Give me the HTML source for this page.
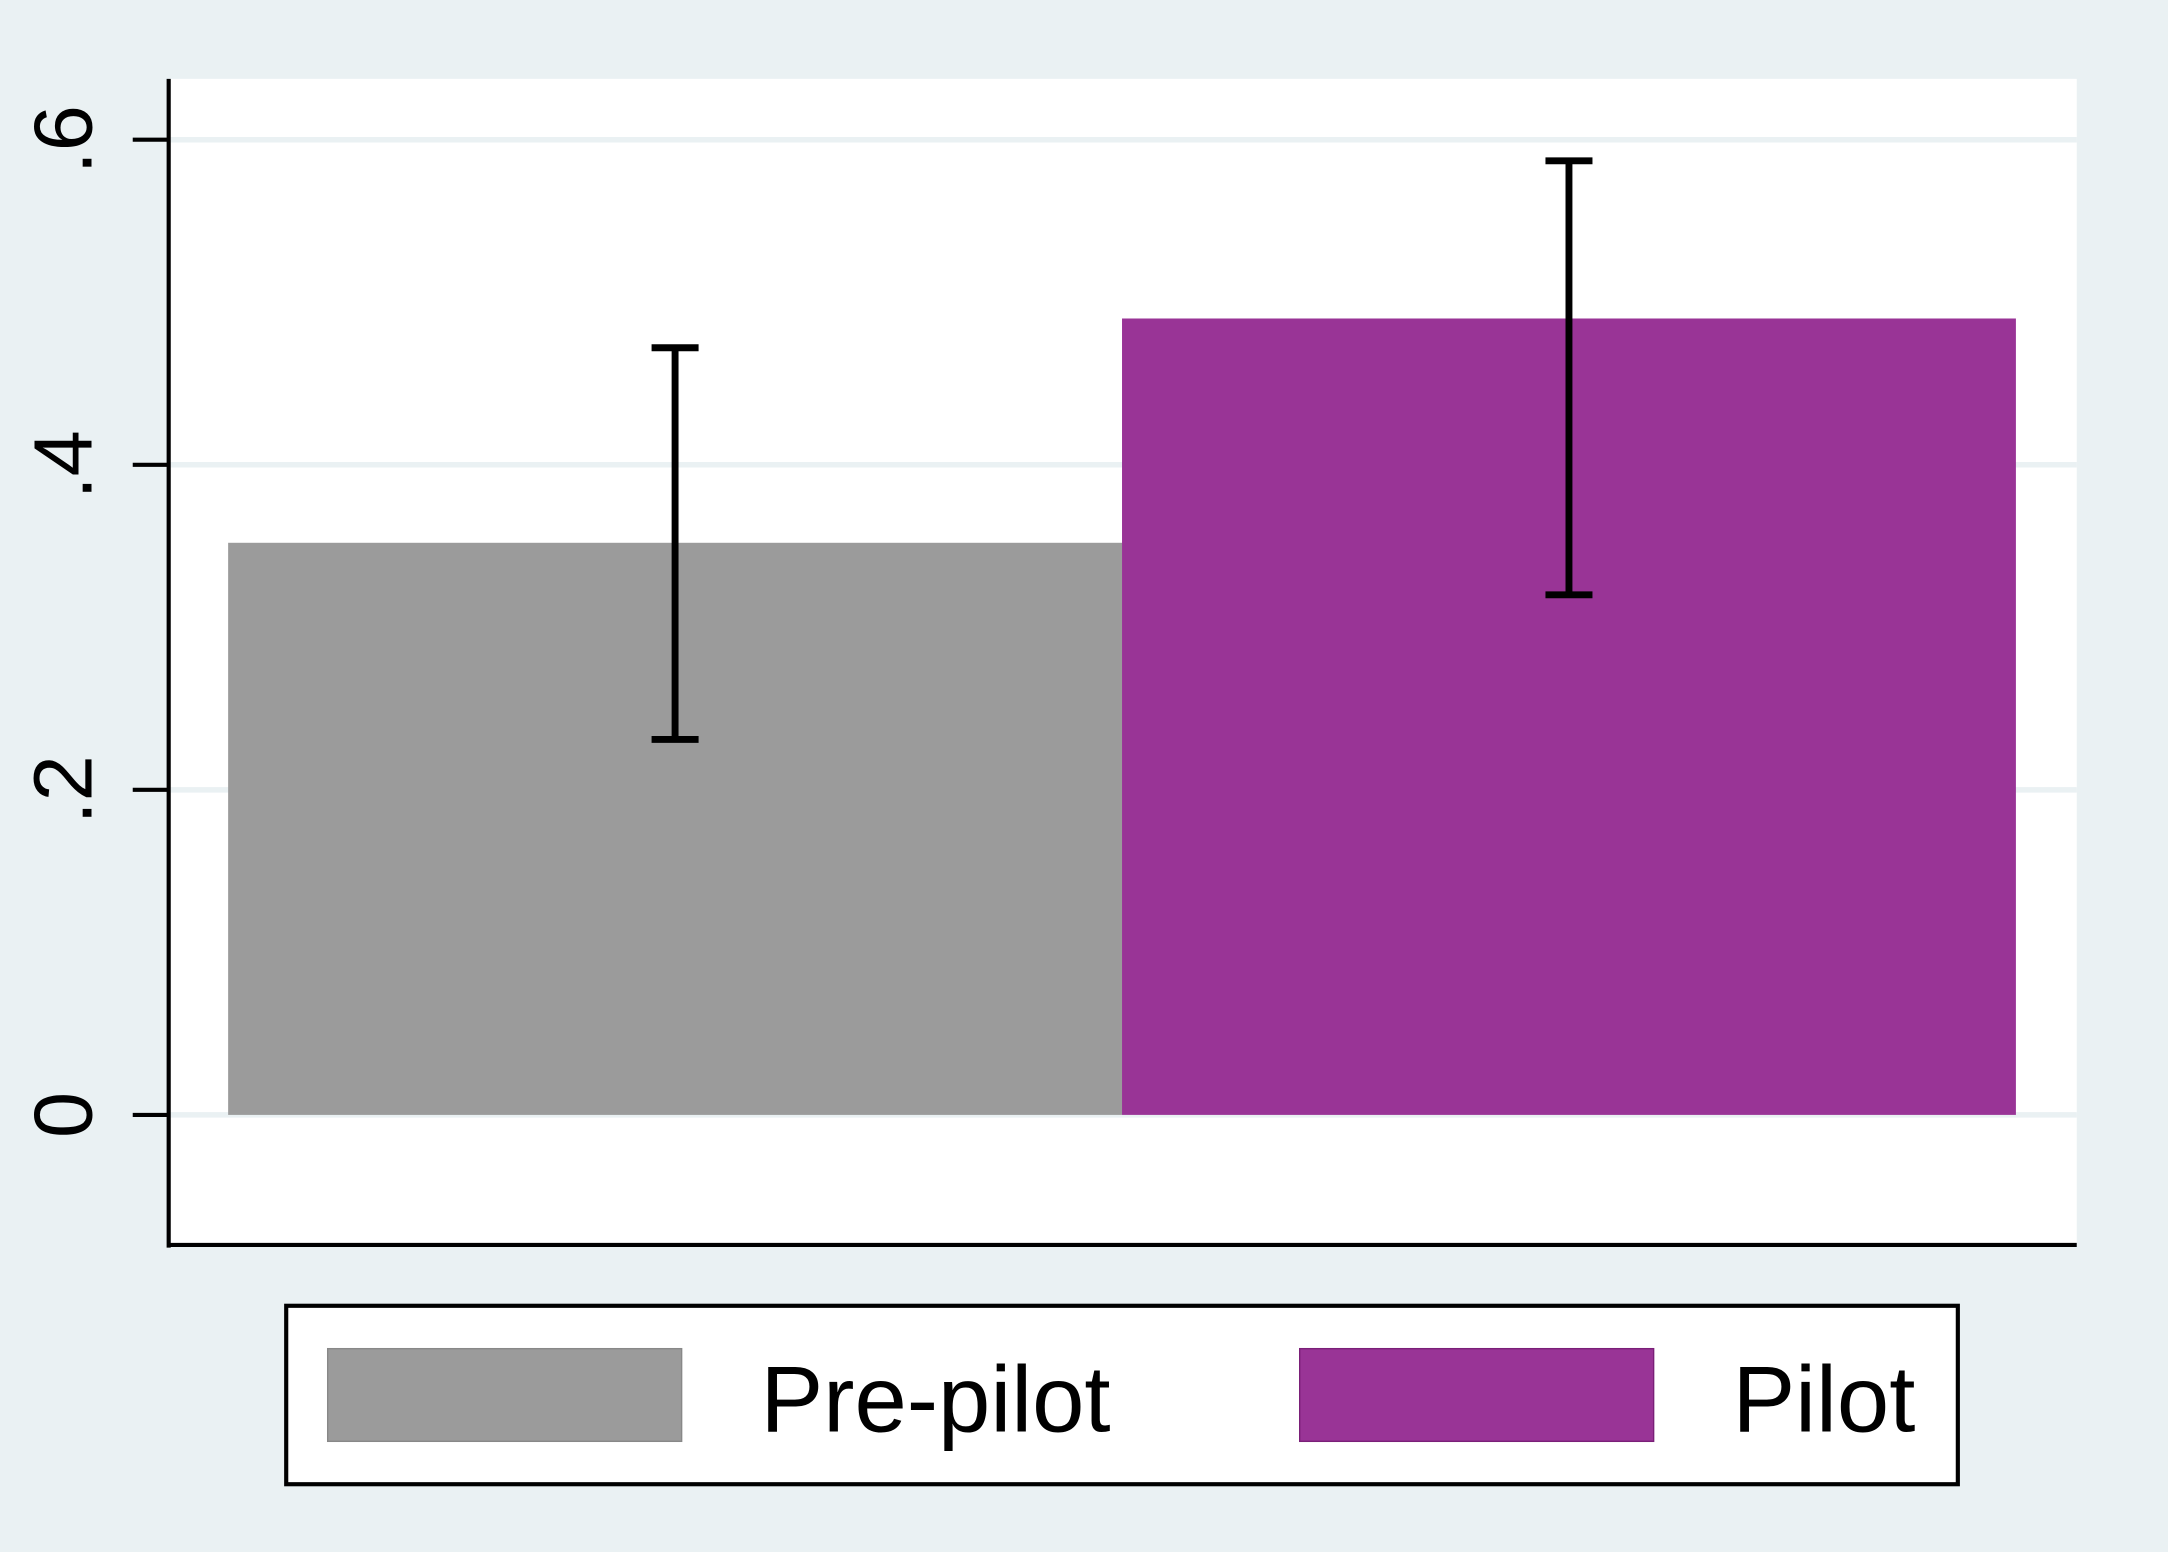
<!DOCTYPE html>
<html><head><meta charset="utf-8"><style>
html,body{margin:0;padding:0;background:#eaf1f3;}
svg{display:block;}
</style></head><body>
<svg id="chart" width="2168" height="1552" viewBox="0 0 1568 1122" preserveAspectRatio="none" xmlns="http://www.w3.org/2000/svg" font-family="Liberation Sans, Arial, sans-serif">
<rect x="0" y="0" width="1568" height="1122" fill="#eaf1f3"/>
<rect x="122" y="57" width="1380" height="843" fill="#ffffff"/>
<g id="grid"></g>
<g id="bars"></g>
<g id="errs"></g>
<line x1="122" y1="57" x2="122" y2="902" stroke="#000" stroke-width="3"/>
<line x1="121" y1="900" x2="1502" y2="900" stroke="#000" stroke-width="3"/>
<g id="ticks"></g>
<g>
<rect x="207" y="944" width="1209" height="129" fill="#fff" stroke="#000" stroke-width="3"/>
<rect x="237" y="975" width="256" height="67" fill="#9b9b9b" stroke="#888" stroke-width="1"/>
<text x="550" y="1035" font-size="68" fill="#000">Pre-pilot</text>
<rect x="940" y="975" width="256" height="67" fill="#993496" stroke="#7a1f78" stroke-width="1"/>
<text x="1253" y="1035" font-size="68" fill="#000">Pilot</text>
</g>
</svg>
<script>
const categories = ["Pre-pilot", "Pilot"];
const values = [0.352, 0.490];
const ciLow = [0.231, 0.320];
const ciHigh = [0.472, 0.587];
const tickValues = [0, 0.2, 0.4, 0.6];
const tickLabels = ["0", ".2", ".4", ".6"];
const colors = ["#9b9b9b", "#993496"];

const NS = "http://www.w3.org/2000/svg";
const y = v => 806 - v * 1175;
const x0 = 165, bw = 646.5;
const x = i => x0 + i * bw;
function mk(tag, attrs, parent){ const e=document.createElementNS(NS,tag); for(const k in attrs) e.setAttribute(k,attrs[k]); document.getElementById(parent).appendChild(e); return e; }

tickValues.forEach((t,i)=>{
  const g = mk('line',{x1:122,y1:y(t),x2:1502,y2:y(t),stroke:'#eaf1f3','stroke-width':4},'grid');
  
  
  const tk = mk('line',{x1:96,y1:y(t),x2:122,y2:y(t),stroke:'#000','stroke-width':3},'ticks');
  
  
  const tx = mk('text',{x:0,y:0,'font-size':60,'text-anchor':'middle',fill:'#000',transform:`translate(66,${y(t)}) rotate(-90)`},'ticks');
  tx.textContent = tickLabels[i];
  
  
});
categories.forEach((c,i)=>{
  const b = mk('rect',{x:x(i),y:y(values[i]),width:bw,height:y(0)-y(values[i]),fill:colors[i]},'bars');
  
  
  const cx = x(i)+bw/2;
  const g = mk('g',{stroke:'#000','stroke-width':5},'errs');
  
  
  [[cx,y(ciLow[i]),cx,y(ciHigh[i])],[cx-17,y(ciLow[i]),cx+17,y(ciLow[i])],[cx-17,y(ciHigh[i]),cx+17,y(ciHigh[i])]].forEach(p=>{
    const l=document.createElementNS(NS,'line');
    l.setAttribute('x1',p[0]);l.setAttribute('y1',p[1]);l.setAttribute('x2',p[2]);l.setAttribute('y2',p[3]);
    g.appendChild(l);
  });
});
</script>
</body></html>
